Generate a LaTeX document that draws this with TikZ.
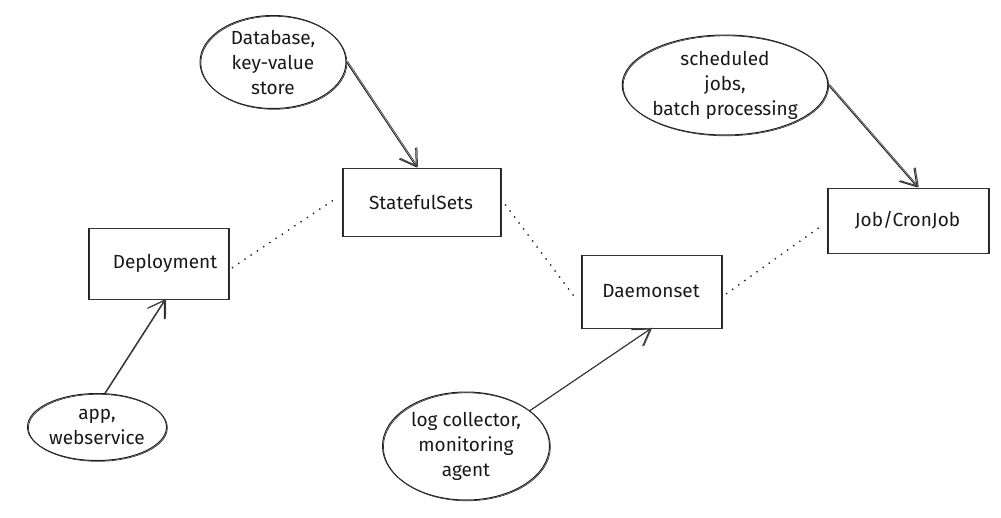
\documentclass[tikz,border=0pt]{standalone}
\usepackage{fontspec}
\setmainfont{Fira Sans}
\usetikzlibrary{arrows.meta,shapes.geometric,calc}
\begin{document}
\begin{tikzpicture}[x=1pt,y=-1pt,
  ink/.style={draw=black!88, line width=1pt,
    postaction={draw=black!80, line width=0.7pt, transform canvas={shift={(0.9pt,-0.8pt)}}}},
  txt/.style={font=\fontsize{19}{25}\selectfont, align=center, text=black!90},
  boxnode/.style={ink, txt, rectangle, inner sep=0pt},
  ovalnode/.style={ink, txt, ellipse, inner sep=0pt},
  conn/.style={draw=black!85, line width=1pt, -{Straight Barb[length=16pt,width=20pt,line width=1pt]},
    postaction={draw=black!75, line width=0.7pt, transform canvas={shift={(1.2pt,0.6pt)}}}},
  link/.style={draw=black!85, line width=2pt, line cap=round, dash pattern=on 0pt off 7.5pt}
]
\useasboundingbox (0,0) rectangle (1001,517);
% boxes
\node[boxnode, minimum width=140pt, minimum height=71pt] (dep) at (158,263.5) {\hspace*{14pt}Deployment};
\node[boxnode, minimum width=158pt, minimum height=68pt] (ss) at (421,202) {StatefulSets};
\node[boxnode, minimum width=140pt, minimum height=73pt] (dae) at (651,291.5) {Daemonset};
\node[boxnode, minimum width=161pt, minimum height=65pt] (job) at (907.5,220.5) {Job/CronJob};
% ovals
\node[ovalnode, minimum width=146pt, minimum height=93pt] (db) at (273,62) {Database,\\key-value\\store};
\node[ovalnode, minimum width=185pt, minimum height=100pt] (sch) at (725,85) {scheduled\\jobs,\\batch processing};
\node[ovalnode, minimum width=139pt, minimum height=67pt] (app) at (97,427) {app,\\webservice};
\node[ovalnode, minimum width=167pt, minimum height=108pt] (log) at (466,446) {log collector,\\monitoring\\agent};
% arrows
\draw[conn] (db.east) -- (ss.97);
\draw[conn] (sch.east) -- (job.73);
\draw[conn] (app.77) -- (dep.-79);
\draw[conn] (log.29) -- (dae.south);
% dotted links
\draw[link] ([shift={(4pt,-4pt)}]dep.east) -- ([shift={(-5pt,4pt)}]ss.west);
\draw[link] ([shift={(5pt,-3pt)}]ss.east) -- ([shift={(-4pt,-8pt)}]dae.west);
\draw[link] ([shift={(5pt,-2pt)}]dae.east) -- ([shift={(-6pt,-6pt)}]job.west);
\end{tikzpicture}
\end{document}
